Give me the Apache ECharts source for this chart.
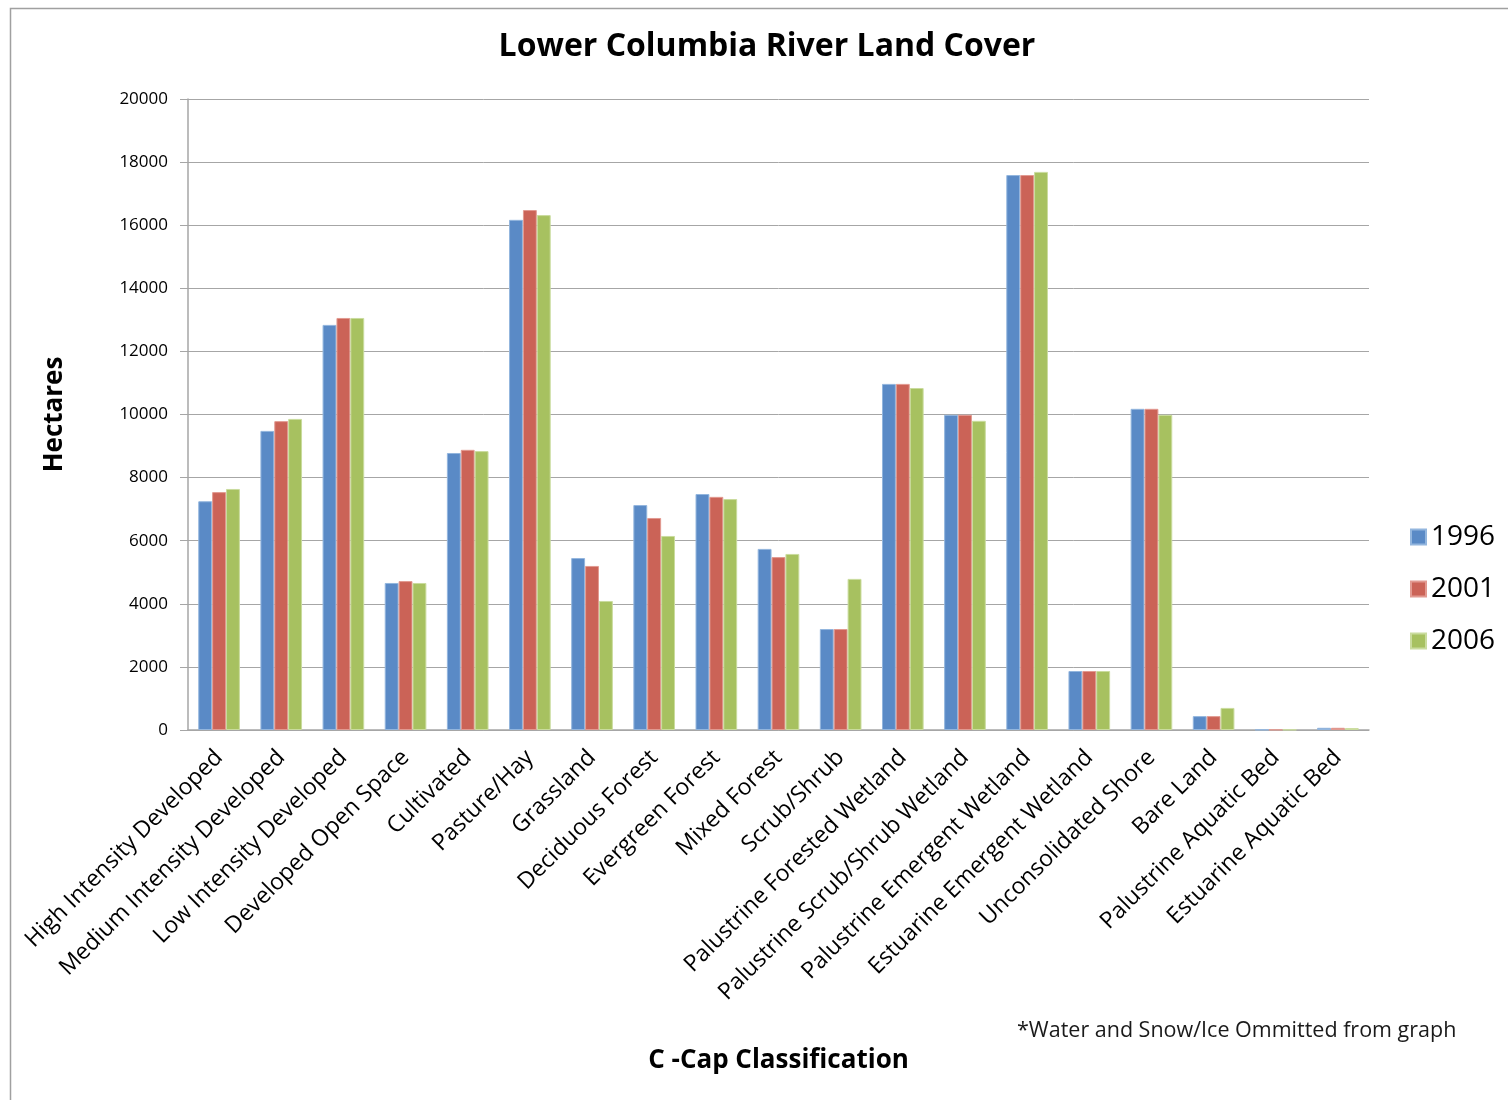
<!DOCTYPE html>
<html>
<head>
<meta charset="utf-8">
<title>Lower Columbia River Land Cover</title>
<script src="https://cdn.jsdelivr.net/npm/echarts@6/dist/echarts.min.js"></script>
<style>
    html, body { margin: 0; padding: 0; background: #fff; }
    #chart { width: 1508px; height: 1100px; }
</style>
</head>
<body>
<div id="chart"></div>
<script>
    // categories (C-Cap classes)
    var categories = [
        'High Intensity Developed', 'Medium Intensity Developed', 'Low Intensity Developed',
        'Developed Open Space', 'Cultivated', 'Pasture/Hay', 'Grassland', 'Deciduous Forest',
        'Evergreen Forest', 'Mixed Forest', 'Scrub/Shrub', 'Palustrine Forested Wetland',
        'Palustrine Scrub/Shrub Wetland', 'Palustrine Emergent Wetland', 'Estuarine Emergent Wetland',
        'Unconsolidated Shore', 'Bare Land', 'Palustrine Aquatic Bed', 'Estuarine Aquatic Bed'
    ];
    var seriesNames = ['1996', '2001', '2006'];
    // hectares
    var values1996 = [7250, 9480, 12840, 4660, 8780, 16170, 5450, 7130, 7480, 5740, 3200, 10970, 9990, 17590, 1870, 10180, 440, 10, 70];
    var values2001 = [7540, 9790, 13060, 4720, 8880, 16480, 5200, 6720, 7390, 5480, 3200, 10970, 9990, 17590, 1870, 10180, 440, 10, 70];
    var values2006 = [7640, 9860, 13060, 4660, 8840, 16320, 4090, 6150, 7320, 5580, 4790, 10840, 9800, 17690, 1870, 9990, 700, 10, 60];
    var yTicks = { min: 0, max: 20000, interval: 2000 };

    var colors = ['#5A8AC6', '#CB6357', '#A7C160'];
    var edges = ['#93B6DE', '#E29A91', '#CADC9E'];
    var allValues = [values1996, values2001, values2006];

    var myChart = echarts.init(document.getElementById('chart'));
    myChart.setOption({
        animation: false,
        color: colors,
        textStyle: { fontFamily: 'Open Sans, sans-serif' },
        title: {
            text: 'Lower Columbia River Land Cover',
            left: 762, top: 26, textAlign: 'center',
            textStyle: { fontSize: 32, fontWeight: 'bold', color: '#000' }
        },
        legend: {
            orient: 'vertical',
            left: 1405, top: 518,
            itemWidth: 15, itemHeight: 15, itemGap: 24,
            icon: 'rect',
            textStyle: { fontSize: 28, color: '#000' },
            data: seriesNames
        },
        grid: { left: 188, right: 139, top: 99, bottom: 370 },
        xAxis: {
            type: 'category',
            data: categories,
            name: 'C -Cap Classification',
            nameLocation: 'middle',
            nameGap: 318,
            nameTextStyle: { fontSize: 26, fontWeight: 'bold', color: '#000' },
            axisLine: { lineStyle: { color: '#A6A6A6', width: 1.5 } },
            axisTick: { show: false },
            axisLabel: { rotate: 45, interval: 0, fontSize: 23, color: '#000', margin: 24 }
        },
        yAxis: {
            type: 'value',
            min: yTicks.min, max: yTicks.max, interval: yTicks.interval,
            name: 'Hectares',
            nameLocation: 'middle',
            nameGap: 120,
            nameTextStyle: { fontSize: 26, fontWeight: 'bold', color: '#000' },
            axisLine: { show: true, lineStyle: { color: '#A6A6A6', width: 1.5 } },
            axisTick: { show: true, length: 8, lineStyle: { color: '#A6A6A6' } },
            axisLabel: { fontSize: 17, color: '#000', margin: 20, formatter: function (v) { return String(v); } },
            splitLine: { lineStyle: { color: '#A6A6A6', width: 1 } }
        },
        series: seriesNames.map(function (name, i) {
            return {
                type: 'bar',
                name: name,
                data: allValues[i],
                barGap: '0%',
                barCategoryGap: '33%',
                itemStyle: { color: colors[i], borderColor: edges[i], borderWidth: 1 }
            };
        }),
        graphic: [
            {
                type: 'rect', left: 8, top: 6,
                shape: { width: 1520, height: 1120 },
                style: { fill: 'none', stroke: '#A0A0A0', lineWidth: 1.5 }
            },
            {
                type: 'text', left: 1017, top: 1020,
                style: { text: '*Water and Snow/Ice Ommitted from graph', fontSize: 21.5, fill: '#1a1a1a', fontFamily: 'Open Sans, sans-serif' }
            }
        ]
    });
    window.addEventListener('resize', function () { myChart.resize(); });
</script>
</body>
</html>
